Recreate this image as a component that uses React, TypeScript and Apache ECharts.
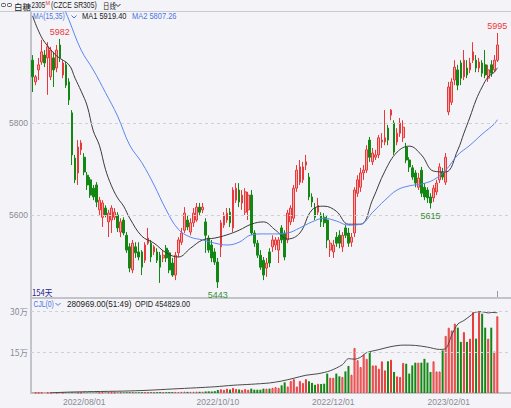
import { useEffect, useRef } from 'react';
import * as echarts from 'echarts';

// ---------- data ----------
const HOLIDAYS = ['2022-09-12', '2022-10-03', '2022-10-04', '2022-10-05', '2022-10-06', '2022-10-07',
  '2023-01-02', '2023-01-23', '2023-01-24', '2023-01-25', '2023-01-26', '2023-01-27'];

function tradingDays(start: string, count: number): string[] {
  const out: string[] = [];
  const d = new Date(start + 'T00:00:00Z');
  while (out.length < count) {
    const wd = d.getUTCDay();
    const iso = d.toISOString().slice(0, 10);
    if (wd !== 0 && wd !== 6 && !HOLIDAYS.includes(iso)) out.push(iso.replace(/-/g, '/'));
    d.setUTCDate(d.getUTCDate() + 1);
  }
  return out;
}
const dates = tradingDays('2022-07-07', 154);
const tickDates = ['2022/08/01', '2022/10/10', '2022/12/01', '2023/02/01'];

const opens = [
  5936, 5889, 5915, 5932, 5947, 5941, 5900, 5941, 5919, 5969,
  5904, 5926, 5889, 5822, 5724, 5692, 5742, 5726, 5687, 5677,
  5659, 5666, 5612, 5596, 5616, 5586, 5590, 5596, 5601, 5564,
  5590, 5557, 5532, 5482, 5532, 5521, 5521, 5503, 5540, 5540,
  5521, 5521, 5514, 5508, 5529, 5519, 5497, 5471, 5519, 5542,
  5568, 5590, 5564, 5584, 5590, 5618, 5612, 5586, 5551, 5536,
  5521, 5499, 5532, 5579, 5590, 5607, 5573, 5633, 5655, 5627,
  5607, 5612, 5644, 5562, 5540, 5514, 5503, 5486, 5521, 5532,
  5536, 5525, 5573, 5562, 5547, 5586, 5594, 5659, 5672, 5677,
  5709, 5683, 5640, 5616, 5607, 5601, 5596, 5590, 5525, 5521,
  5553, 5557, 5532, 5573, 5562, 5542, 5562, 5648, 5661, 5692,
  5698, 5763, 5716, 5726, 5731, 5759, 5759, 5789, 5817, 5800,
  5759, 5778, 5768, 5748, 5720, 5703, 5692, 5661, 5698, 5661,
  5655, 5640, 5638, 5651, 5677, 5694, 5672, 5824, 5845, 5893,
  5915, 5930, 5900, 5919, 5915, 5936, 5936, 5919, 5930, 5926,
  5897, 5926, 5915, 5936,
];
const closes = [
  5900, 5900, 5926, 5954, 5930, 5965, 5958, 5915, 5958, 5941,
  5930, 5882, 5850, 5731, 5677, 5748, 5757, 5694, 5666, 5644,
  5640, 5629, 5633, 5627, 5601, 5605, 5616, 5607, 5573, 5586,
  5562, 5525, 5486, 5540, 5519, 5510, 5488, 5536, 5551, 5510,
  5532, 5503, 5488, 5514, 5508, 5482, 5471, 5514, 5547, 5562,
  5605, 5575, 5584, 5605, 5618, 5607, 5618, 5557, 5525, 5508,
  5499, 5456, 5584, 5601, 5605, 5584, 5655, 5659, 5629, 5644,
  5651, 5644, 5562, 5540, 5514, 5488, 5471, 5497, 5497, 5547,
  5547, 5547, 5547, 5510, 5605, 5616, 5659, 5698, 5705, 5705,
  5716, 5640, 5629, 5596, 5622, 5586, 5584, 5547, 5540, 5536,
  5540, 5540, 5557, 5557, 5540, 5553, 5655, 5677, 5692, 5698,
  5742, 5726, 5735, 5731, 5768, 5763, 5768, 5763, 5828, 5737,
  5778, 5800, 5791, 5720, 5705, 5683, 5670, 5681, 5648, 5640,
  5638, 5627, 5659, 5670, 5705, 5683, 5726, 5878, 5889, 5921,
  5882, 5897, 5936, 5904, 5930, 5954, 5919, 5932, 5908, 5904,
  5915, 5908, 5936, 5969,
];
const lows = [
  5867, 5882, 5893, 5926, 5921, 5861, 5893, 5878, 5910, 5932,
  5897, 5876, 5839, 5709, 5670, 5666, 5731, 5687, 5655, 5638,
  5633, 5618, 5601, 5575, 5596, 5553, 5562, 5590, 5564, 5553,
  5557, 5519, 5477, 5475, 5508, 5503, 5471, 5497, 5536, 5499,
  5514, 5497, 5454, 5499, 5499, 5475, 5467, 5460, 5510, 5536,
  5562, 5568, 5557, 5575, 5586, 5601, 5605, 5519, 5519, 5499,
  5493, 5443, 5510, 5573, 5584, 5575, 5564, 5627, 5618, 5612,
  5601, 5590, 5557, 5532, 5508, 5482, 5460, 5467, 5488, 5521,
  5525, 5497, 5540, 5503, 5540, 5579, 5586, 5651, 5666, 5670,
  5698, 5633, 5618, 5590, 5601, 5575, 5575, 5529, 5510, 5508,
  5532, 5529, 5521, 5551, 5532, 5532, 5553, 5640, 5651, 5677,
  5692, 5716, 5709, 5720, 5724, 5746, 5752, 5752, 5806, 5731,
  5752, 5770, 5759, 5713, 5694, 5677, 5661, 5655, 5640, 5633,
  5627, 5615, 5629, 5644, 5670, 5677, 5666, 5817, 5839, 5882,
  5871, 5882, 5893, 5897, 5908, 5930, 5910, 5910, 5900, 5897,
  5889, 5900, 5910, 5932,
];
const highs = [
  5947, 5904, 5941, 5980, 5958, 5975, 5965, 5954, 5969, 5982,
  5936, 5932, 5897, 5828, 5731, 5763, 5763, 5735, 5694, 5683,
  5666, 5672, 5640, 5633, 5622, 5612, 5622, 5616, 5607, 5594,
  5596, 5564, 5540, 5547, 5542, 5542, 5525, 5542, 5573, 5547,
  5536, 5529, 5521, 5525, 5536, 5525, 5508, 5521, 5553, 5573,
  5618, 5601, 5594, 5616, 5627, 5627, 5627, 5594, 5557, 5547,
  5529, 5508, 5590, 5607, 5616, 5616, 5661, 5670, 5670, 5655,
  5659, 5651, 5655, 5568, 5547, 5525, 5510, 5508, 5529, 5557,
  5553, 5553, 5579, 5568, 5612, 5622, 5666, 5709, 5720, 5716,
  5731, 5692, 5648, 5627, 5638, 5607, 5605, 5601, 5547, 5547,
  5564, 5568, 5564, 5579, 5573, 5562, 5661, 5687, 5703, 5709,
  5752, 5770, 5746, 5742, 5774, 5778, 5828, 5796, 5830, 5806,
  5789, 5811, 5806, 5757, 5726, 5709, 5698, 5692, 5705, 5670,
  5661, 5648, 5666, 5677, 5713, 5703, 5735, 5889, 5897, 5936,
  5926, 5936, 5958, 5936, 5941, 5975, 5947, 5941, 5936, 5958,
  5926, 5936, 5947, 5995,
];
const volumes = [
  1200, 900, 1000, 1100, 800, 1300, 1000, 1200, 1500, 1100,
  1400, 1600, 1300, 2500, 1800, 1600, 1400, 1500, 1700, 1300,
  1600, 1800, 1500, 2000, 1700, 2200, 1900, 1600, 2100, 2400,
  2200, 2800, 3000, 2600, 2300, 2500, 3100, 2700, 2900, 2400,
  2600, 3200, 3500, 2800, 3000, 3600, 3300, 4200, 3800, 4500,
  5000, 4100, 4400, 4800, 5200, 4600, 4900, 5800, 6200, 5500,
  6800, 11000, 14000, 12000, 16000, 12500, 19000, 15000, 13000, 11500,
  14500, 12000, 16000, 12000, 12000, 12000, 16000, 16000, 16000, 19000,
  22000, 19000, 28000, 39000, 24000, 44000, 51000, 24000, 44000, 37000,
  51000, 43000, 37000, 30000, 34000, 33000, 34000, 71000, 56000, 56000,
  71000, 61000, 59000, 79000, 99000, 67000, 165000, 120000, 95000, 141000,
  125000, 150000, 101000, 101000, 89000, 116000, 83000, 116000, 122000, 77000,
  61000, 59000, 110000, 107000, 71000, 101000, 111000, 111000, 111000, 125000,
  111000, 77000, 116000, 79000, 79000, 156000, 209000, 239000, 229000, 254000,
  239000, 187000, 223000, 187000, 199000, 296000, 199000, 296000, 290000, 239000,
  199000, 239000, 152000, 280969,
];
// moving averages: [day index, value]
const ma1Points: [number, number][] = [
  [0, 6032], [2, 5999], [4, 5975], [8, 5945], [12, 5926], [14, 5897], [16, 5869], [18, 5837],
  [20, 5783], [22, 5752], [24, 5700], [26, 5664], [28, 5638], [30, 5620], [32, 5594], [36, 5555],
  [40, 5540], [44, 5519], [48, 5510], [52, 5529], [56, 5547], [60, 5551], [64, 5558], [68, 5568],
  [72, 5581], [76, 5586], [80, 5568], [84, 5549], [88, 5562], [92, 5612], [96, 5620], [100, 5609],
  [104, 5581], [108, 5581], [112, 5635], [116, 5696], [120, 5737], [124, 5750], [128, 5731],
  [132, 5696], [136, 5694], [140, 5742], [142, 5778], [144, 5813], [146, 5850], [148, 5878],
  [150, 5900], [152, 5910], [153, 5919.4],
];
const ma2Points: [number, number][] = [
  [9, 6070], [12, 6023], [16, 5958], [20, 5915], [24, 5866], [28, 5815], [32, 5752], [36, 5714],
  [40, 5666], [44, 5612], [48, 5570], [52, 5553], [56, 5547], [60, 5540], [64, 5536], [68, 5542],
  [72, 5558], [76, 5560], [80, 5560], [84, 5562], [88, 5573], [92, 5586], [96, 5594], [100, 5588],
  [104, 5579], [108, 5581], [112, 5607], [116, 5633], [120, 5655], [124, 5664], [128, 5668],
  [132, 5677], [136, 5698], [140, 5731], [144, 5752], [148, 5776], [152, 5798], [153, 5807.26],
];
// open interest: [day index, value]
const oiPoints: [number, number][] = [
  [6, 1000], [12, 5100], [20, 8000], [30, 10800], [38, 15400], [46, 22700], [54, 29600],
  [60, 35300], [66, 43800], [72, 49500], [78, 56900], [82, 67700], [86, 83600], [90, 100600],
  [94, 109200], [98, 126200], [102, 160300], [104, 194500], [106, 191600], [108, 203000],
  [110, 228600], [114, 245600], [118, 262700], [122, 271200], [126, 269500], [130, 259900],
  [134, 246800], [136, 251300], [138, 328100], [140, 390600], [142, 410500], [144, 436100],
  [146, 458900], [148, 460600], [150, 453200], [151, 456000], [153, 454829],
];
const priceTicks = [5600, 5800];
const volTicks = [150000, 300000];
const highMarks = [{ i: 9, v: 5982 }, { i: 153, v: 5995 }];
const lowMarks = [{ i: 61, v: 5443 }, { i: 131, v: 5615 }];
const lastVolume = 280969;
const lastOI = 454829;

// ---------- style ----------
const BG = '#f4f4f8';
const UP = '#e8393a';
const UP_FILL = '#f6aaaa';
const DOWN = '#138713';
const AXIS = '#c3c3cb';
const LABEL = '#8a8a94';
const BLUE = '#4a74e0';
const NUM = '"Liberation Sans",Arial,sans-serif';
const CJK = '"Noto Sans CJK SC","Liberation Sans",sans-serif';

export default function App() {
  const ref = useRef<HTMLDivElement>(null);
  useEffect(() => {
    document.body.style.margin = '0';
    const chart = echarts.init(ref.current!, undefined, { renderer: 'svg' });
    const xCats = dates.concat(['', '', '', '']);
    const candleData = dates.map((_, i) => [opens[i], closes[i], lows[i], highs[i]]);
    const volData = volumes.map((v, i) => {
      const up = closes[i] >= opens[i];
      return {
        value: v,
        itemStyle: up
          ? { color: UP_FILL, borderColor: UP, borderWidth: 1 }
          : { color: DOWN, borderColor: DOWN, borderWidth: 0 },
      };
    });
    const t = (text: string, x: number, y: number, fill: string, size: number, family: string, sx = 1) => ({
      type: 'text', x, y, scaleX: sx, silent: true,
      style: { text, fill, fontSize: size, fontFamily: family, verticalAlign: 'middle' },
    });
    const chev = (x: number, y: number, color: string) => ({
      type: 'polyline', silent: true,
      shape: { points: [[x, y], [x + 2.5, y + 2.5], [x + 5, y]] },
      style: { stroke: color, lineWidth: 1, fill: 'none' },
    });
    const mkLabel = (color: string, position: string) => ({
      show: true, position, distance: 2, color, fontSize: 9, fontFamily: NUM,
    });
    const ma1Last = ma1Points[ma1Points.length - 1][1];
    const ma2Last = ma2Points[ma2Points.length - 1][1];

    chart.setOption({
      animation: false,
      backgroundColor: BG,
      grid: [
        { left: 31, right: 0, top: 12, height: 286 },
        { left: 31, right: 0, top: 299, height: 94 },
      ],
      xAxis: [
        {
          type: 'category', gridIndex: 0, data: xCats, boundaryGap: true,
          axisLine: { show: true, lineStyle: { color: AXIS, width: 2 } },
          axisTick: { show: false }, axisLabel: { show: false }, splitLine: { show: false },
        },
        {
          type: 'category', gridIndex: 1, data: xCats, boundaryGap: true,
          axisLine: { show: true, lineStyle: { color: AXIS, width: 2 } },
          axisTick: { show: false },
          axisLabel: {
            interval: (_i: number, v: string) => tickDates.includes(v),
            color: LABEL, fontSize: 8.5, fontFamily: NUM, margin: 4,
          },
          splitLine: { show: false },
        },
      ],
      yAxis: [
        {
          type: 'value', gridIndex: 0, min: 5421.3, max: 6040.3, scale: true,
          axisLine: { show: true, lineStyle: { color: AXIS, width: 2 } },
          axisTick: { show: false },
          axisLabel: {
            customValues: priceTicks,
            formatter: (v: number) => (priceTicks.includes(v) ? String(v) : ''),
            color: LABEL, fontSize: 8.5, fontFamily: NUM, margin: 3,
          },
          splitLine: { show: false },
        },
        {
          type: 'value', gridIndex: 1, min: 0, max: 343900,
          axisLine: { show: true, lineStyle: { color: AXIS, width: 2 } },
          axisTick: { show: false },
          axisLabel: {
            customValues: volTicks,
            formatter: (v: number) => (volTicks.includes(v) ? v / 10000 + '万' : ''),
            color: LABEL, fontSize: 8.5, fontFamily: CJK, margin: 3,
          },
          splitLine: { show: false },
        },
        { type: 'value', gridIndex: 1, min: 0, max: 532400, show: false },
      ],
      series: [
        {
          type: 'candlestick', xAxisIndex: 0, yAxisIndex: 0, data: candleData, barWidth: 2.2,
          itemStyle: { color: UP_FILL, borderColor: UP, color0: DOWN, borderColor0: DOWN, borderWidth: 1 },
          markLine: {
            silent: true, symbol: 'none', label: { show: false },
            lineStyle: { color: '#cfcfd6', type: [3, 3], width: 1 },
            data: priceTicks.map((v) => ({ yAxis: v })),
          },
          markPoint: {
            silent: true, symbol: 'circle', symbolSize: 1, itemStyle: { color: 'rgba(0,0,0,0)' },
            data: [
              ...highMarks.map((m) => ({ coord: [m.i, m.v], value: m.v, label: mkLabel(UP, 'top') })),
              ...lowMarks.map((m) => ({ coord: [m.i, m.v], value: m.v, label: mkLabel('#3a8f3a', 'bottom') })),
            ],
          },
        },
        {
          type: 'line', xAxisIndex: 0, yAxisIndex: 0, data: ma1Points, symbol: 'none', smooth: 0.4,
          lineStyle: { color: '#3a3a3a', width: 1 }, silent: true,
        },
        {
          type: 'line', xAxisIndex: 0, yAxisIndex: 0, data: ma2Points, symbol: 'none', smooth: 0.4,
          lineStyle: { color: '#5b86ee', width: 1 }, silent: true,
        },
        {
          type: 'bar', xAxisIndex: 1, yAxisIndex: 1, data: volData, barWidth: 2, silent: true,
          markLine: {
            silent: true, symbol: 'none', label: { show: false },
            lineStyle: { color: '#cfcfd6', type: [3, 3], width: 1 },
            data: volTicks.map((v) => ({ yAxis: v })),
          },
        },
        {
          type: 'line', xAxisIndex: 1, yAxisIndex: 2, data: oiPoints, symbol: 'none', smooth: 0.3,
          lineStyle: { color: '#4a4a4a', width: 1 }, silent: true,
        },
      ],
      graphic: [
        { type: 'line', silent: true, shape: { x1: 0, y1: 11.5, x2: 511, y2: 11.5 }, style: { stroke: '#c9c9d1', lineWidth: 1 } },
        { type: 'rect', silent: true, shape: { x: 1.5, y: 3.5, width: 4, height: 3, r: 1 }, style: { stroke: '#555', fill: 'none', lineWidth: 1 } },
        { type: 'rect', silent: true, shape: { x: 7.5, y: 3.5, width: 4, height: 3, r: 1 }, style: { stroke: '#555', fill: 'none', lineWidth: 1 } },
        t('白糖', 14, 5.5, '#222', 8.5, CJK),
        t('2305', 31.5, 5.5, '#222', 8.5, NUM, 0.72),
        t('M', 45.5, 3, '#e83030', 5.5, NUM),
        t('(CZCE SR305)', 51, 5.5, '#222', 8.5, NUM, 0.8),
        t('日线', 103, 5.5, '#222', 8, CJK, 0.8),
        chev(115.5, 4, '#333'),
        t('MA(15,35)', 33, 16.5, BLUE, 8.5, NUM, 0.8),
        chev(71.5, 15.5, BLUE),
        t('MA1 ' + ma1Last.toFixed(2), 82, 16.5, '#222', 8.5, NUM, 0.88),
        t('MA2 ' + ma2Last.toFixed(2), 132, 16.5, BLUE, 8.5, NUM, 0.88),
        t('154天', 32, 292.5, '#26268a', 8.5, CJK, 0.9),
        t('CJL(0)', 33.5, 304, BLUE, 8.5, NUM, 0.8),
        chev(55.5, 303, BLUE),
        t(lastVolume.toFixed(2) + '(51:49)', 67, 304, '#222', 8.5, NUM, 0.96),
        t('OPID ' + lastOI.toFixed(2), 135, 304, '#222', 8.5, NUM, 0.87),
        { type: 'line', silent: true, shape: { x1: 497.5, y1: 291, x2: 497.5, y2: 297 }, style: { stroke: '#9a9aa2', lineWidth: 1 } },
      ],
    });
    return () => chart.dispose();
  }, []);
  return <div ref={ref} style={{ width: 511, height: 408, position: 'absolute', left: 0, top: 0 }} />;
}
